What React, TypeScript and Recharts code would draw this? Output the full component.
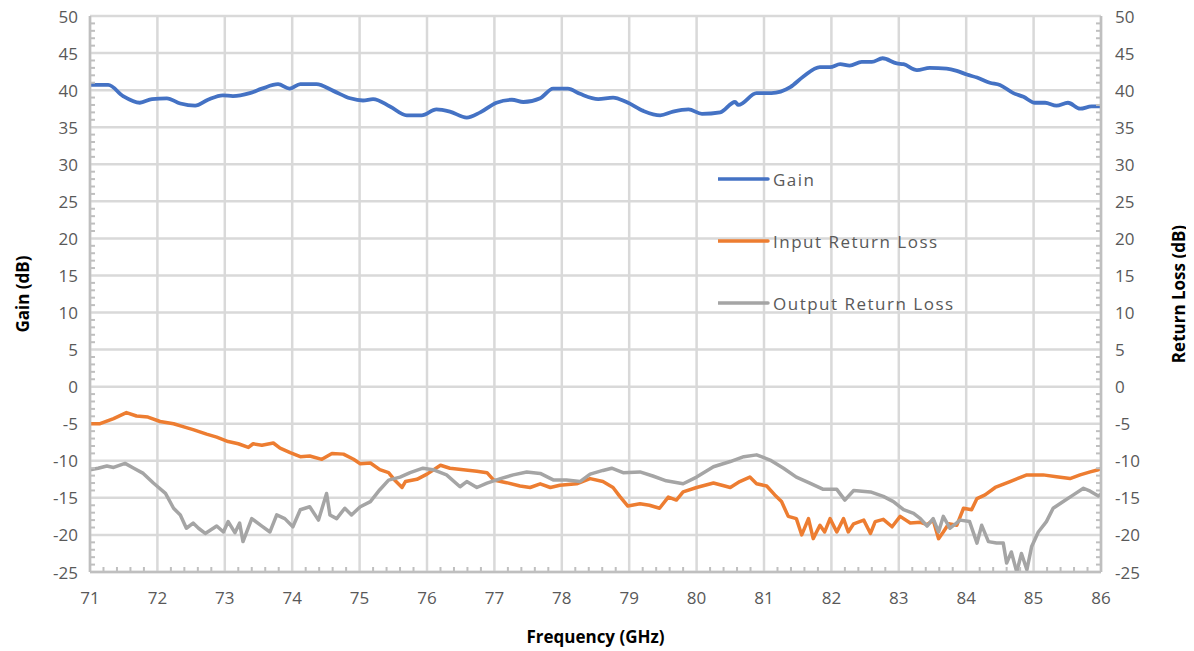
import React from "react";
import { LineChart, Line, XAxis, YAxis, CartesianGrid, Legend } from "recharts";

const FONT = "'Open Sans', 'Liberation Sans', sans-serif";
const TEXT = "#595959";
const AXIS = "#bfbfbf";
const GRID = "#d9d9d9";

// Category axis (frequency, GHz)
const xMajor = [71, 72, 73, 74, 75, 76, 77, 78, 79, 80, 81, 82, 83, 84, 85, 86];
// Value axis ticks (dB)
const yMajor = [-25, -20, -15, -10, -5, 0, 5, 10, 15, 20, 25, 30, 35, 40, 45, 50];

// Gain (dB)
const gainF = [71, 71.27, 71.49, 71.74, 71.92, 72.14, 72.34, 72.56, 72.75, 72.97, 73.12, 73.37, 73.55, 73.79, 73.96, 74.12, 74.36, 74.61, 74.86, 75.05, 75.2, 75.45, 75.7, 75.92, 76.14, 76.34, 76.59, 76.79, 77.03, 77.26, 77.43, 77.68, 77.87, 78.09, 78.27, 78.54, 78.76, 78.96, 79.21, 79.46, 79.65, 79.88, 80.08, 80.35, 80.57, 80.62, 80.89, 81.11, 81.39, 81.58, 81.83, 81.98, 82.13, 82.27, 82.45, 82.6, 82.76, 82.97, 83.07, 83.27, 83.46, 83.71, 83.86, 84.01, 84.16, 84.35, 84.5, 84.7, 84.85, 85.02, 85.17, 85.34, 85.51, 85.69, 85.86, 86];
const gainV = [40.7, 40.7, 39.2, 38.3, 38.8, 38.9, 38.2, 37.9, 38.7, 39.3, 39.2, 39.6, 40.2, 40.8, 40.2, 40.8, 40.8, 39.9, 38.9, 38.6, 38.8, 37.8, 36.6, 36.6, 37.4, 37.1, 36.3, 37.0, 38.3, 38.7, 38.4, 38.9, 40.2, 40.2, 39.5, 38.8, 39.0, 38.4, 37.2, 36.6, 37.1, 37.4, 36.8, 37.0, 38.4, 38.0, 39.6, 39.6, 40.4, 41.8, 43.1, 43.1, 43.5, 43.3, 43.8, 43.8, 44.3, 43.6, 43.5, 42.7, 43.0, 42.9, 42.6, 42.1, 41.7, 41.0, 40.7, 39.6, 39.1, 38.3, 38.3, 37.9, 38.3, 37.5, 37.8, 37.8];

// Input Return Loss (dB)
const irlF = [71, 71.15, 71.35, 71.54, 71.69, 71.86, 72.04, 72.24, 72.38, 72.53, 72.73, 72.88, 73.05, 73.2, 73.35, 73.42, 73.55, 73.72, 73.82, 73.97, 74.12, 74.26, 74.44, 74.59, 74.76, 74.91, 75.01, 75.16, 75.3, 75.43, 75.53, 75.63, 75.68, 75.85, 76.0, 76.2, 76.34, 76.54, 76.74, 76.89, 76.99, 77.18, 77.38, 77.53, 77.68, 77.83, 77.97, 78.22, 78.42, 78.61, 78.76, 78.86, 78.98, 79.16, 79.3, 79.45, 79.58, 79.7, 79.8, 80.0, 80.25, 80.5, 80.64, 80.79, 80.89, 81.04, 81.16, 81.26, 81.36, 81.48, 81.56, 81.66, 81.73, 81.83, 81.9, 81.98, 82.08, 82.18, 82.25, 82.33, 82.48, 82.58, 82.65, 82.77, 82.9, 83.02, 83.17, 83.32, 83.42, 83.51, 83.59, 83.66, 83.74, 83.86, 83.96, 84.08, 84.16, 84.28, 84.43, 84.65, 84.9, 85.14, 85.34, 85.54, 85.69, 85.84, 85.96, 86];
const irlV = [-5.0, -5.0, -4.3, -3.5, -3.96, -4.1, -4.7, -5.0, -5.4, -5.8, -6.4, -6.8, -7.4, -7.7, -8.2, -7.7, -7.9, -7.6, -8.3, -8.9, -9.45, -9.35, -9.8, -9.0, -9.1, -9.8, -10.4, -10.3, -11.2, -11.6, -12.7, -13.6, -12.8, -12.5, -11.8, -10.6, -11.0, -11.2, -11.4, -11.6, -12.6, -12.95, -13.4, -13.6, -13.1, -13.6, -13.3, -13.1, -12.4, -12.8, -13.6, -14.8, -16.1, -15.8, -16.0, -16.4, -14.9, -15.3, -14.2, -13.6, -13.0, -13.6, -12.8, -12.2, -13.1, -13.4, -14.6, -15.5, -17.5, -17.8, -20.0, -17.8, -20.5, -18.7, -19.6, -17.8, -19.6, -17.8, -19.6, -18.5, -18.0, -19.8, -18.2, -17.9, -18.9, -17.5, -18.4, -18.3, -18.6, -18.0, -20.5, -19.6, -18.5, -18.7, -16.4, -16.6, -15.1, -14.6, -13.6, -12.8, -11.9, -11.9, -12.15, -12.4, -11.9, -11.5, -11.2, -11.0];

// Output Return Loss (dB)
const orlF = [71, 71.12, 71.25, 71.35, 71.52, 71.65, 71.79, 71.94, 72.12, 72.24, 72.34, 72.43, 72.53, 72.61, 72.71, 72.88, 72.98, 73.05, 73.15, 73.22, 73.27, 73.4, 73.55, 73.67, 73.77, 73.89, 74.01, 74.12, 74.26, 74.39, 74.51, 74.56, 74.66, 74.78, 74.88, 75.01, 75.16, 75.3, 75.43, 75.6, 75.75, 75.94, 76.09, 76.29, 76.49, 76.59, 76.74, 76.89, 77.09, 77.28, 77.48, 77.68, 77.88, 78.07, 78.27, 78.42, 78.61, 78.74, 78.91, 79.16, 79.35, 79.55, 79.8, 80.0, 80.25, 80.5, 80.7, 80.89, 81.09, 81.29, 81.48, 81.68, 81.88, 82.08, 82.2, 82.33, 82.58, 82.77, 82.92, 83.07, 83.22, 83.32, 83.42, 83.51, 83.59, 83.66, 83.76, 83.91, 84.05, 84.16, 84.23, 84.33, 84.45, 84.55, 84.6, 84.67, 84.75, 84.82, 84.9, 84.97, 85.07, 85.19, 85.29, 85.44, 85.59, 85.74, 85.84, 85.96, 86];
const orlV = [-11.2, -11.0, -10.7, -10.9, -10.35, -11.0, -11.7, -13.0, -14.4, -16.4, -17.3, -19.1, -18.4, -19.1, -19.8, -18.8, -19.6, -18.2, -19.7, -18.4, -20.9, -17.8, -18.8, -19.6, -17.3, -17.8, -18.9, -16.6, -16.2, -18.0, -14.4, -17.3, -17.8, -16.4, -17.3, -16.2, -15.5, -13.9, -12.6, -12.2, -11.6, -11.0, -11.2, -11.9, -13.5, -12.8, -13.6, -13.0, -12.4, -11.9, -11.5, -11.7, -12.6, -12.6, -12.8, -11.8, -11.3, -11.0, -11.6, -11.5, -12.05, -12.7, -13.1, -12.2, -10.8, -10.1, -9.45, -9.2, -9.9, -11.0, -12.2, -13.0, -13.85, -13.85, -15.3, -14.0, -14.2, -14.8, -15.5, -16.6, -17.1, -17.8, -18.8, -17.8, -19.6, -17.5, -19.1, -18.0, -18.2, -21.1, -18.7, -20.9, -21.1, -21.1, -23.8, -22.3, -25.0, -22.5, -24.7, -21.6, -19.6, -18.2, -16.4, -15.5, -14.6, -13.7, -14.1, -14.75, -14.5];

const seriesNames = ["Gain", "Input Return Loss", "Output Return Loss"];
const seriesColors = ["#4472c4", "#ed7d31", "#a5a5a5"];

const zip = (f: number[], v: number[]) => {
  const n = Math.min(f.length, v.length);
  const out: { f: number; v: number }[] = [];
  for (let i = 0; i < n; i++) out.push({ f: f[i], v: v[i] });
  return out;
};
const gainData = zip(gainF, gainV);
const irlData = zip(irlF, irlV);
const orlData = zip(orlF, orlV);

// minor tick positions (styling only)
const xTicks: number[] = [];
xMajor.forEach((m, i) => {
  xTicks.push(m);
  if (i < xMajor.length - 1) for (let k = 1; k < 5; k++) xTicks.push(Math.round((m + k * 0.2) * 10) / 10);
});
const yTicks: number[] = [];
yMajor.forEach((m, i) => {
  yTicks.push(m);
  if (i < yMajor.length - 1) for (let k = 1; k < 5; k++) yTicks.push(m + k);
});

const isMajor = (v: number) => Math.abs(v - Math.round(v)) < 1e-6;

const XTick = (p: any) => {
  const v = p.payload.value;
  const maj = isMajor(v);
  return (
    <g>
      {!maj && <line x1={p.x} x2={p.x} y1={p.y} y2={p.y - 5} stroke={AXIS} strokeWidth={2} />}
      {maj && (
        <text x={p.x} y={p.y + 25} textAnchor="middle" dominantBaseline="central" fill={TEXT} fontSize={17} fontFamily={FONT}>
          {Math.round(v)}
        </text>
      )}
    </g>
  );
};

const YTickLeft = (p: any) => {
  const v = p.payload.value;
  const maj = v % 5 === 0;
  return (
    <g>
      {!maj && <line x1={p.x} x2={p.x + 5} y1={p.y} y2={p.y} stroke={AXIS} strokeWidth={2} />}
      {maj && (
        <text x={p.x - 12} y={p.y} textAnchor="end" dominantBaseline="central" fill={TEXT} fontSize={17} fontFamily={FONT}>
          {v}
        </text>
      )}
    </g>
  );
};

const YTickRight = (p: any) => {
  const v = p.payload.value;
  const maj = v % 5 === 0;
  return (
    <g>
      {!maj && <line x1={p.x} x2={p.x - 5} y1={p.y} y2={p.y} stroke={AXIS} strokeWidth={2} />}
      {maj && (
        <text x={p.x + 14} y={p.y} textAnchor="start" dominantBaseline="central" fill={TEXT} fontSize={17} fontFamily={FONT}>
          {v}
        </text>
      )}
    </g>
  );
};

const LeftLabel = (p: any) => {
  const vb = p.viewBox;
  const cx = vb.x + 14;
  const cy = vb.y + vb.height / 2;
  return (
    <text x={cx} y={cy} transform={`rotate(-90 ${cx} ${cy})`} textAnchor="middle" dominantBaseline="central" fontWeight="bold" fill="#000" fontSize={17} fontFamily={FONT}>
      Gain (dB)
    </text>
  );
};

const RightLabel = (p: any) => {
  const vb = p.viewBox;
  const cx = vb.x + 77;
  const cy = vb.y + vb.height / 2;
  return (
    <text x={cx} y={cy} transform={`rotate(-90 ${cx} ${cy})`} textAnchor="middle" dominantBaseline="central" fontWeight="bold" fill="#000" fontSize={17} fontFamily={FONT}>
      Return Loss (dB)
    </text>
  );
};

const BottomLabel = (p: any) => {
  const vb = p.viewBox;
  return (
    <text x={vb.x + vb.width / 2} y={vb.y + 64} textAnchor="middle" dominantBaseline="central" fontWeight="bold" fill="#000" fontSize={17} fontFamily={FONT}>
      Frequency (GHz)
    </text>
  );
};

const LegendBox = () => (
  <div style={{ fontFamily: FONT }}>
    {seriesNames.map((n, i) => (
      <div key={n} style={{ height: 62, display: "flex", alignItems: "center" }}>
        <svg width={55} height={10} style={{ display: "block" }}>
          <line x1={0} x2={50} y1={5} y2={5} stroke={seriesColors[i]} strokeWidth={3.5} strokeLinecap="round" />
        </svg>
        <span style={{ fontSize: 17, color: TEXT, letterSpacing: 1.5, whiteSpace: "nowrap" }}>{n}</span>
      </div>
    ))}
  </div>
);

export default function App() {
  return (
    <div style={{ width: 1194, height: 651, margin: "-8px 0 0 -8px", fontFamily: FONT }}>
      <LineChart width={1194} height={651} margin={{ top: 16, right: 8, left: 8, bottom: 0 }}>
        <CartesianGrid
          stroke={GRID}
          strokeWidth={2.5}
          horizontalValues={yMajor}
          verticalValues={xMajor}
          yAxisId="left"
        />
        <XAxis
          type="number"
          dataKey="f"
          domain={[71, 86]}
          ticks={xTicks}
          interval={0}
          height={79}
          tickSize={0}
          tickMargin={0}
          tickLine={false}
          tick={<XTick />}
          axisLine={{ stroke: AXIS, strokeWidth: 2.5 }}
          allowDataOverflow
          label={<BottomLabel />}
        />
        <YAxis
          yAxisId="left"
          type="number"
          domain={[-25, 50]}
          ticks={yTicks}
          interval={0}
          width={82}
          tickSize={0}
          tickMargin={0}
          tickLine={false}
          tick={<YTickLeft />}
          axisLine={{ stroke: AXIS, strokeWidth: 2.5 }}
          allowDataOverflow
          label={<LeftLabel />}
        />
        <YAxis
          yAxisId="right"
          orientation="right"
          type="number"
          domain={[-25, 50]}
          ticks={yTicks}
          interval={0}
          width={85}
          tickSize={0}
          tickMargin={0}
          tickLine={false}
          tick={<YTickRight />}
          axisLine={{ stroke: AXIS, strokeWidth: 2.5 }}
          allowDataOverflow
          label={<RightLabel />}
        />
        <Legend
          layout="vertical"
          align="center"
          verticalAlign="middle"
          content={<LegendBox />}
          wrapperStyle={{ position: "absolute", left: 718, top: 148, width: 320, height: 186 }}
        />
        <Line yAxisId="left" data={gainData} dataKey="v" name="Gain" type="monotone" stroke={seriesColors[0]} strokeWidth={3.8} dot={false} isAnimationActive={false} strokeLinejoin="round" />
        <Line yAxisId="right" data={irlData} dataKey="v" name="Input Return Loss" type="linear" stroke={seriesColors[1]} strokeWidth={3.5} dot={false} isAnimationActive={false} strokeLinejoin="round" />
        <Line yAxisId="right" data={orlData} dataKey="v" name="Output Return Loss" type="linear" stroke={seriesColors[2]} strokeWidth={3.5} dot={false} isAnimationActive={false} strokeLinejoin="round" />
      </LineChart>
    </div>
  );
}
